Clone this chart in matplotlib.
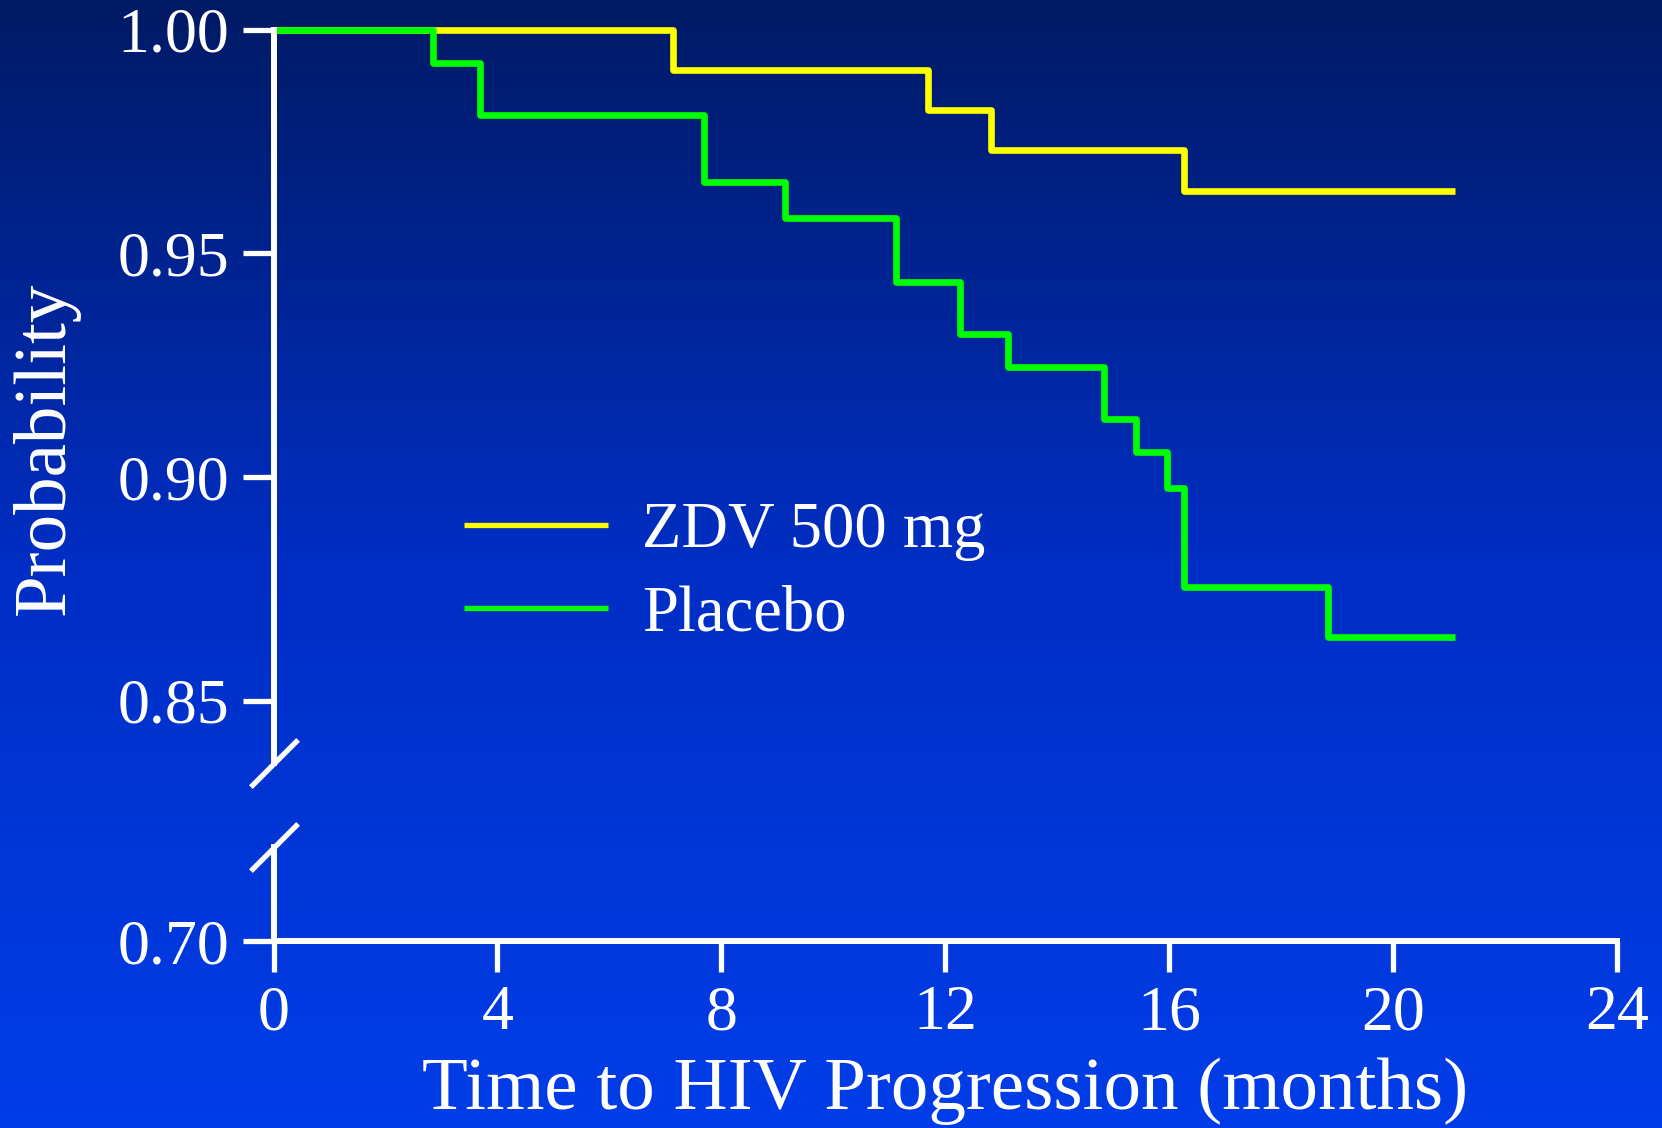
import numpy as np
import matplotlib
matplotlib.use('Agg')
import matplotlib.pyplot as plt
from matplotlib.colors import LinearSegmentedColormap

# Kaplan-Meier curves (months, probability)
zdv_tempo = [0, 7.13, 11.68, 12.82, 16.26, 21.1]
zdv_prob = [1.000, 0.991, 0.982, 0.973, 0.964, 0.964]

placebo_tempo = [0, 2.84, 3.69, 7.69, 9.13, 11.11, 12.26, 13.12, 14.83, 15.40, 15.96, 16.26, 18.83, 21.1]
placebo_prob = [1.000, 0.9925, 0.981, 0.966, 0.958, 0.9435, 0.932, 0.9245, 0.913, 0.9057, 0.8975, 0.8755, 0.8642, 0.8642]

series_labels = ['ZDV 500 mg', 'Placebo']
x_ticks = [0, 4, 8, 12, 16, 20, 24]
y_ticks_top = [0.85, 0.90, 0.95, 1.00]
y_ticks_bottom = [0.70]

# Colours / style
BRANCO = 'white'
AMARELO = '#ffff00'
VERDE = '#00ff00'
fundo = LinearSegmentedColormap.from_list('fundo', ['#001a64', '#002ec4', '#003de8'])

plt.rcParams['font.family'] = ['Liberation Serif', 'DejaVu Serif']

fig = plt.figure(figsize=(16.62, 11.28), dpi=100)

# background gradient (top dark navy -> bright blue)
ax_bg = fig.add_axes([0, 0, 1, 1], zorder=-10)
ax_bg.imshow(np.linspace(0, 1, 256).reshape(-1, 1), cmap=fundo, aspect='auto',
             extent=[0, 1, 0, 1])
ax_bg.axis('off')

W, H = 1662.0, 1128.0
esq, dir_ = 273.5, 1617.5
# top part (0.836 .. 1.00)
ax_top = fig.add_axes([esq / W, 1 - 763 / H, (dir_ - esq) / W, (763 - 29.7) / H])
# bottom part (0.70 ..)
ax_bot = fig.add_axes([esq / W, 1 - 941 / H, (dir_ - esq) / W, (941 - 847) / H])

for ax in (ax_top, ax_bot):
    ax.set_facecolor('none')
    ax.set_xlim(0, 24)
    for s in ['top', 'right']:
        ax.spines[s].set_visible(False)
    ax.spines['left'].set_color(BRANCO)
    ax.spines['left'].set_linewidth(4.3)
    ax.tick_params(axis='both', colors=BRANCO, labelcolor=BRANCO, labelsize=46,
                   length=22, width=3.8, pad=10, direction='out')

ax_top.set_ylim(0.8361, 1.0)
ax_top.spines['bottom'].set_visible(False)
ax_top.tick_params(axis='x', bottom=False, labelbottom=False)
ax_top.set_yticks(y_ticks_top)
ax_top.set_yticklabels([f'{v:.2f}' for v in y_ticks_top])

ax_bot.set_ylim(0.70, 0.721)
ax_bot.spines['bottom'].set_color(BRANCO)
ax_bot.spines['bottom'].set_linewidth(4.3)
ax_bot.set_yticks(y_ticks_bottom)
ax_bot.set_yticklabels([f'{v:.2f}' for v in y_ticks_bottom])
ax_bot.set_xticks(x_ticks)
ax_bot.set_xticklabels([str(v) for v in x_ticks])
ax_bot.set_xlabel('Time to HIV Progression (months)', fontsize=54, color=BRANCO, labelpad=10)

# curves
l1, = ax_top.step(zdv_tempo, zdv_prob, where='post', color=AMARELO, lw=4.8,
                  solid_joinstyle='round', solid_capstyle='butt', clip_on=False,
                  label=series_labels[0])
l2, = ax_top.step(placebo_tempo, placebo_prob, where='post', color=VERDE, lw=4.8,
                  solid_joinstyle='round', solid_capstyle='butt', clip_on=False,
                  label=series_labels[1])

leg = ax_top.legend(handles=[l1, l2], loc='center left', bbox_to_anchor=(0.118, 0.259),
                    frameon=False, borderpad=0, fontsize=46.5, handlelength=2.22,
                    handletextpad=0.53, labelspacing=0.37)
for t in leg.get_texts():
    t.set_color(BRANCO)
for h in leg.get_lines():
    h.set_linewidth(3.8)

# axis break marks
quebra = dict(marker=[(-1, -1), (1, 1)], markersize=34, linestyle='none',
              color=BRANCO, mec=BRANCO, mew=3.8, clip_on=False)
ax_top.plot([0], [0], transform=ax_top.transAxes, **quebra)
ax_bot.plot([0], [1], transform=ax_bot.transAxes, **quebra)

fig.text(46 / W, 1 - 448 / H, 'Probability', rotation=90, fontsize=54,
         color=BRANCO, ha='center', va='center')

fig.savefig('out.png', dpi=100)
